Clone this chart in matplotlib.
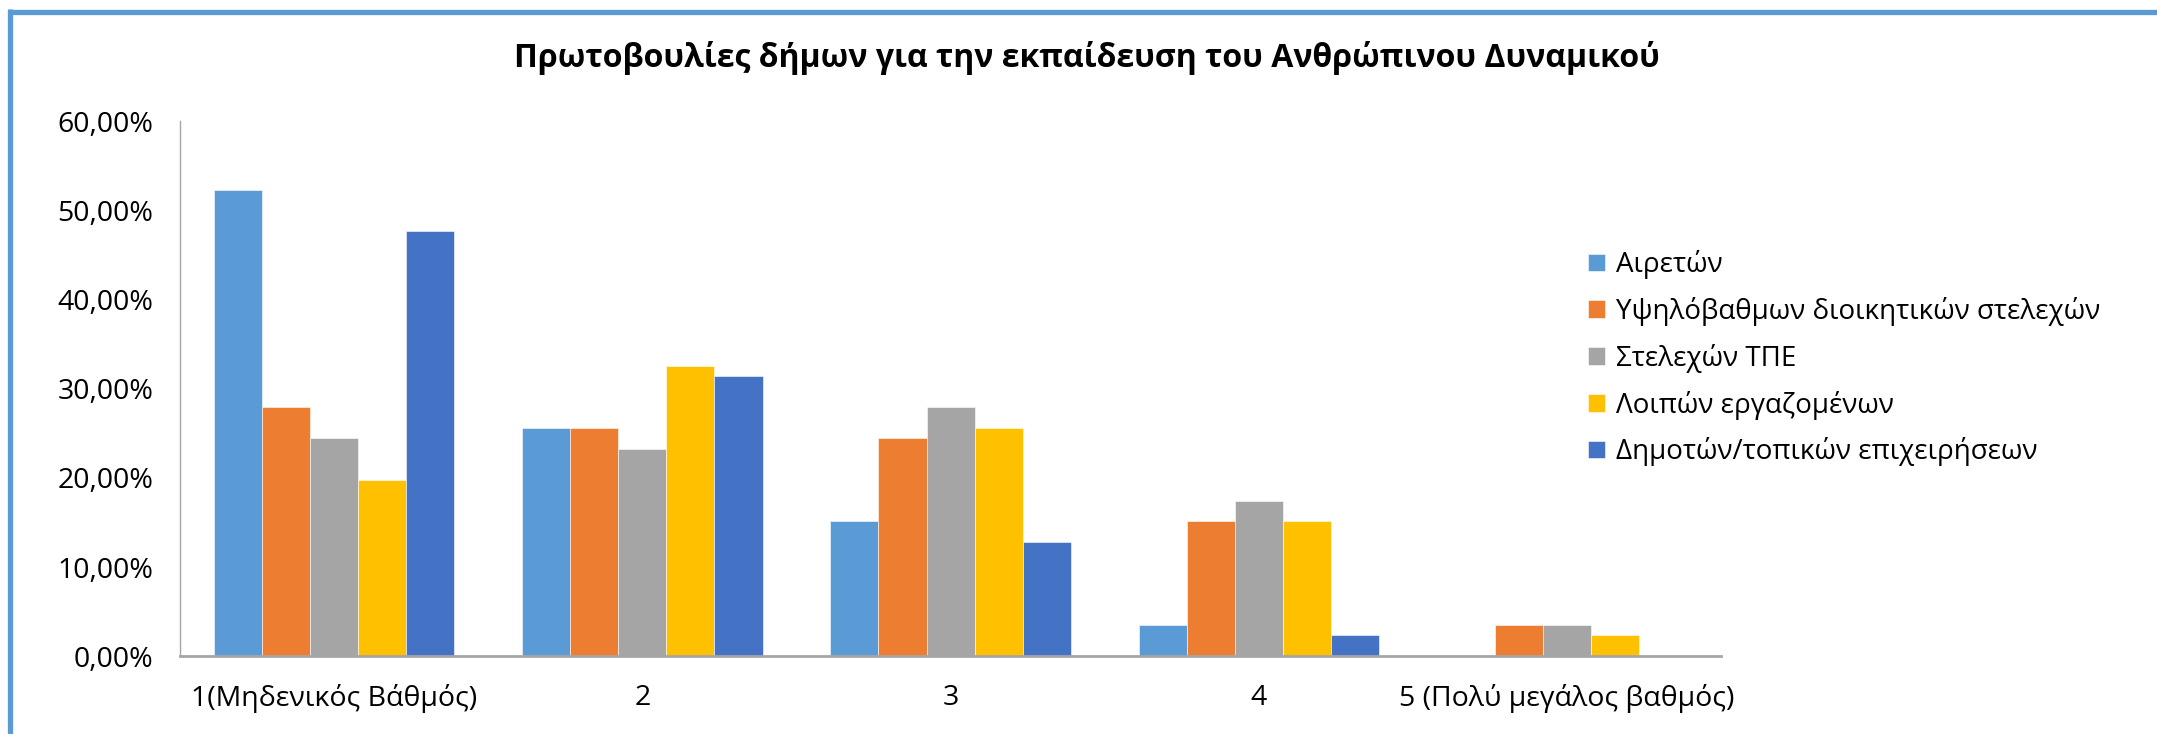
import numpy as np
import matplotlib.pyplot as plt
from matplotlib.lines import Line2D
from matplotlib.ticker import FuncFormatter

plt.rcParams['font.family'] = ['Open Sans', 'DejaVu Sans']

categories = ['1(Μηδενικός Βάθμός)', '2', '3', '4', '5 (Πολύ μεγάλος βαθμός)']
series_names = ['Αιρετών', 'Υψηλόβαθμων διοικητικών στελεχών', 'Στελεχών ΤΠΕ',
                'Λοιπών εργαζομένων', 'Δημοτών/τοπικών επιχειρήσεων']
airetwn = [52.33, 25.58, 15.12, 3.49, 0.0]
ypsilovathmwn = [27.91, 25.58, 24.42, 15.12, 3.49]
stelexwn_tpe = [24.42, 23.26, 27.91, 17.44, 3.49]
loipwn = [19.77, 32.56, 25.58, 15.12, 2.33]
dimotwn = [47.67, 31.40, 12.79, 2.33, 0.0]
colors = ['#5B9BD5', '#ED7D31', '#A5A5A5', '#FFC000', '#4472C4']

series = [airetwn, ypsilovathmwn, stelexwn_tpe, loipwn, dimotwn]

fig = plt.figure(figsize=(21.57, 7.34), dpi=100)
ax = fig.add_axes([0.0834, 0.106, 0.7146, 0.729])

x = np.arange(len(categories))
w = 0.156
for i, (vals, name, c) in enumerate(zip(series, series_names, colors)):
    ax.bar(x + (i - 2) * w, vals, w, color=c, label=name,
           edgecolor='white', linewidth=0.4)

ax.set_xlim(-0.5, len(categories) - 0.5)
ax.set_ylim(0, 60)
ax.set_yticks(np.arange(0, 61, 10))
ax.yaxis.set_major_formatter(FuncFormatter(lambda v, p: f'{v:.2f}'.replace('.', ',') + '%'))
ax.set_xticks(x)
ax.set_xticklabels(categories)
ax.tick_params(axis='y', length=0, pad=19, labelsize=20.5)
ax.tick_params(axis='x', length=0, pad=20, labelsize=20.5)

for s in ['top', 'right']:
    ax.spines[s].set_visible(False)
ax.spines['left'].set_color('#A6A6A6')
ax.spines['left'].set_linewidth(1.0)
ax.spines['bottom'].set_color('#A6A6A6')
ax.spines['bottom'].set_linewidth(2.0)

fig.text(0.504, 0.921, 'Πρωτοβουλίες δήμων για την εκπαίδευση του Ανθρώπινου Δυναμικού',
         ha='center', va='center', fontsize=23, fontweight='bold')

fig.legend(loc='upper left', bbox_to_anchor=(0.730, 0.678), frameon=False,
           fontsize=20, handlelength=0.6, handleheight=0.6, handletextpad=0.4,
           labelspacing=0.64, borderpad=0)

# blue frame (top and left edges)
fig.add_artist(Line2D([8 / 2157, 1], [1 - 11.5 / 734, 1 - 11.5 / 734],
                      transform=fig.transFigure, color='#5B9BD5', linewidth=3.8,
                      solid_capstyle='butt'))
fig.add_artist(Line2D([10 / 2157, 10 / 2157], [0, 1 - 9 / 734],
                      transform=fig.transFigure, color='#5B9BD5', linewidth=3.8,
                      solid_capstyle='butt'))

fig.savefig('out.png', dpi=100)
